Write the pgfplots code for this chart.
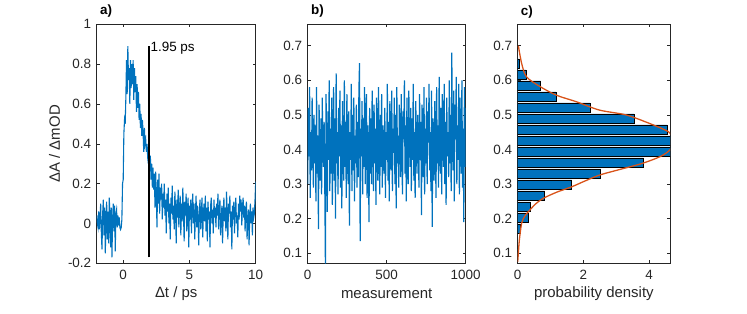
\documentclass[border=0pt]{standalone}
\usepackage{fontspec}
\setmainfont{Liberation Sans}
\usepackage{pgfplots}
\usepackage{pgfplotstable}
\pgfplotsset{compat=1.18}
\definecolor{mblue}{rgb}{0,0.447,0.741}
\definecolor{morange}{rgb}{0.85,0.325,0.098}
\definecolor{axgray}{rgb}{0.15,0.15,0.15}

\pgfplotstableread{
t y
-2.00 0.04
-1.95 0.00
-1.90 -0.02
-1.85 0.06
-1.80 -0.03
-1.75 0.02
-1.70 0.10
-1.65 -0.05
-1.60 -0.13
-1.55 0.05
-1.50 0.12
-1.45 -0.06
-1.40 0.08
-1.35 -0.15
-1.30 0.02
-1.25 0.11
-1.20 -0.08
-1.15 0.06
-1.10 -0.10
-1.05 0.13
-1.00 0.03
-0.95 -0.12
-0.90 0.08
-0.85 -0.17
-0.80 0.02
-0.75 0.10
-0.70 -0.04
-0.65 0.09
-0.60 -0.14
-0.55 0.05
-0.50 0.07
-0.45 -0.02
-0.40 0.04
-0.35 -0.01
-0.30 0.03
-0.25 -0.02
-0.20 -0.03
-0.15 -0.02
-0.10 0.02
-0.05 0.20
0.00 0.22
0.05 0.45
0.10 0.52
0.15 0.50
0.20 0.63
0.25 0.82
0.30 0.65
0.35 0.89
0.40 0.72
0.45 0.78
0.50 0.60
0.55 0.82
0.60 0.68
0.65 0.80
0.70 0.70
0.75 0.82
0.80 0.62
0.85 0.78
0.90 0.66
0.95 0.74
1.00 0.56
1.05 0.70
1.10 0.58
1.15 0.66
1.20 0.52
1.25 0.60
1.30 0.48
1.35 0.55
1.40 0.44
1.45 0.52
1.50 0.46
1.55 0.36
1.60 0.48
1.65 0.40
1.70 0.42
1.75 0.36
1.80 0.40
1.85 0.33
1.90 0.30
1.95 0.38
2.00 0.27
2.05 0.34
2.10 0.22
2.15 0.30
2.20 0.18
2.25 0.28
2.30 0.17
2.35 0.25
2.40 0.08
2.45 0.26
2.50 0.14
2.55 -0.02
2.60 0.22
2.65 0.10
2.70 0.25
2.75 0.05
2.80 0.18
2.85 0.12
2.90 0.20
2.95 0.02
3.00 0.15
3.05 0.08
3.10 0.20
3.15 0.04
3.20 0.12
3.25 -0.05
3.30 0.15
3.35 0.06
3.40 0.18
3.45 0.00
3.50 0.10
3.55 -0.08
3.60 0.13
3.65 0.05
3.70 0.19
3.75 0.02
3.80 0.09
3.85 -0.03
3.90 0.16
3.95 0.07
4.00 -0.10
4.05 0.12
4.10 0.03
4.15 0.17
4.20 -0.02
4.25 0.08
4.30 0.14
4.35 -0.06
4.40 0.10
4.45 0.01
4.50 0.18
4.55 0.05
4.60 -0.09
4.65 0.11
4.70 0.04
4.75 0.15
4.80 -0.04
4.85 0.07
4.90 0.13
4.95 -0.12
5.00 0.09
5.05 0.02
5.10 0.12
5.15 -0.05
5.20 0.08
5.25 0.15
5.30 0.00
5.35 0.10
5.40 -0.08
5.45 0.05
5.50 0.14
5.55 -0.02
5.60 0.09
5.65 0.03
5.70 -0.11
5.75 0.07
5.80 0.12
5.85 -0.03
5.90 0.06
5.95 0.13
6.00 -0.07
6.05 0.04
6.10 0.10
6.15 0.01
6.20 0.14
6.25 -0.04
6.30 0.08
6.35 -0.09
6.40 0.11
6.45 0.02
6.50 0.06
6.55 -0.12
6.60 0.09
6.65 0.13
6.70 0.00
6.75 0.07
6.80 -0.05
6.85 0.12
6.90 0.03
6.95 0.08
7.00 -0.02
7.05 0.10
7.10 0.04
7.15 0.15
7.20 -0.03
7.25 0.07
7.30 0.12
7.35 -0.06
7.40 0.02
7.45 0.09
7.50 -0.10
7.55 0.05
7.60 0.13
7.65 0.01
7.70 0.08
7.75 -0.04
7.80 0.16
7.85 0.03
7.90 -0.08
7.95 0.10
8.00 0.05
8.05 0.14
8.10 -0.02
8.15 0.06
8.20 -0.13
8.25 0.09
8.30 0.02
8.35 0.11
8.40 -0.05
8.45 0.07
8.50 0.13
8.55 0.00
8.60 0.04
8.65 -0.07
8.70 0.10
8.75 0.02
8.80 0.14
8.85 0.06
8.90 0.12
8.95 -0.01
9.00 0.08
9.05 0.13
9.10 0.03
9.15 0.09
9.20 -0.04
9.25 0.06
9.30 0.11
9.35 -0.08
9.40 0.02
9.45 0.07
9.50 -0.11
9.55 0.04
9.60 0.10
9.65 0.00
9.70 0.06
9.75 -0.06
9.80 0.08
9.85 0.03
9.90 0.05
9.95 0.12
10.00 0.21
}\tracedata

\pgfplotstableread{
y
0.30
0.52
0.38
0.58
0.26
0.45
0.34
0.55
0.41
0.29
0.50
0.36
0.47
0.25
0.58
0.33
0.44
0.17
0.53
0.39
0.31
0.49
0.27
0.55
0.40
0.35
0.48
0.30
0.07
0.56
0.42
0.22
0.51
0.37
0.60
0.28
0.46
0.33
0.55
0.24
0.43
0.58
0.31
0.49
0.20
0.62
0.36
0.45
0.27
0.52
0.38
0.57
0.29
0.47
0.23
0.54
0.40
0.31
0.60
0.35
0.48
0.26
0.56
0.42
0.30
0.51
0.18
0.45
0.37
0.59
0.28
0.50
0.34
0.55
0.25
0.44
0.36
0.53
0.29
0.48
0.32
0.57
0.65
0.135
0.46
0.38
0.54
0.27
0.49
0.35
0.58
0.30
0.44
0.56
0.26
0.47
0.39
0.19
0.52
0.33
0.49
0.30
0.57
0.41
0.28
0.53
0.36
0.46
0.24
0.55
0.38
0.31
0.58
0.43
0.27
0.50
0.35
0.56
0.29
0.47
0.40
0.33
0.52
0.26
0.45
0.37
0.59
0.31
0.48
0.25
0.54
0.42
0.34
0.57
0.28
0.46
0.39
0.55
0.30
0.50
0.23
0.58
0.36
0.44
0.29
0.53
0.41
0.32
0.56
0.38
0.27
0.51
0.43
0.60
0.33
0.47
0.25
0.55
0.39
0.30
0.57
0.42
0.35
0.52
0.28
0.49
0.37
0.59
0.31
0.45
0.26
0.54
0.40
0.33
0.50
0.44
0.29
0.56
0.37
0.48
0.21
0.53
0.40
0.32
0.58
0.27
0.46
0.36
0.55
0.30
0.51
0.42
0.59
0.34
0.45
0.28
0.57
0.176
0.49
0.38
0.31
0.54
0.43
0.26
0.58
0.36
0.47
0.29
0.61
0.39
0.33
0.52
0.27
0.56
0.41
0.35
0.59
0.30
0.48
0.24
0.55
0.38
0.45
0.32
0.60
0.36
0.50
0.28
0.68
0.41
0.34
0.57
0.25
0.53
0.43
0.61
0.30
0.47
0.37
0.59
0.27
0.55
0.40
0.33
0.60
0.29
0.46
0.19
0.58
0.35
0.52
}\measdata

\pgfplotsset{
  mstyle/.style={
    scale only axis, height=239bp,
    axis line style={axgray, line width=0.5pt},
    tick style={axgray, line width=0.5pt},
    tick align=inside, major tick length=3bp,
    xtick pos=both, ytick pos=both,
    xticklabel pos=lower, yticklabel pos=left,
    ticklabel style={font=\fontsize{13.5}{15}\selectfont, text=axgray},
    xticklabel style={yshift=-3bp},
    yticklabel style={xshift=-2bp},
    every axis x label/.style={at={(axis description cs:0.5,-0.127)}, anchor=center, font=\fontsize{15}{17}\selectfont, text=axgray},
    every axis y label/.style={at={(axis description cs:-0.265,0.5)}, anchor=center, rotate=90, font=\fontsize{15}{17}\selectfont, text=axgray},
    clip mode=individual,
  }
}

\begin{document}
\begin{tikzpicture}
\path[use as bounding box] (0,0) rectangle (747bp,314bp);

% panel a
\begin{axis}[mstyle, at={(96.7bp,50.7bp)}, anchor=south west, width=159bp,
  xmin=-2, xmax=10, ymin=-0.2, ymax=1,
  xtick={0,5,10}, xticklabels={0,5,10},
  ytick={-0.2,0,0.2,0.4,0.6,0.8,1}, yticklabels={-0.2,0,0.2,0.4,0.6,0.8,1},
  xlabel={Δt / ps}, ylabel={ΔA / ΔmOD}]
\addplot[mblue, line width=1.1pt] table[x=t, y=y] {\tracedata};
\addplot[black, line width=1.3pt] coordinates {(1.95,-0.17) (1.95,0.893)};
\node[anchor=west, inner sep=0pt, font=\fontsize{13.5}{15}\selectfont] at (axis cs:2.05,0.878) {1.95 ps};
\node[anchor=west, inner sep=0pt, font=\bfseries\fontsize{13.5}{15}\selectfont] at (axis description cs:0.02,1.055) {a)};
\end{axis}

% panel b
\begin{axis}[mstyle, at={(307.7bp,50.7bp)}, anchor=south west, width=158bp,
  xmin=0, xmax=1000, ymin=0.071, ymax=0.762,
  xtick={0,500,1000}, xticklabels={0,500,1000},
  ytick={0.1,0.2,0.3,0.4,0.5,0.6,0.7}, yticklabels={0.1,0.2,0.3,0.4,0.5,0.6,0.7},
  xlabel={measurement}]
\addplot[mblue, line width=1.2pt] table[x expr=\coordindex*4, y=y] {\measdata};
\node[anchor=west, inner sep=0pt, font=\bfseries\fontsize{13.5}{15}\selectfont] at (axis description cs:0.02,1.055) {b)};
\end{axis}

% panel c
\begin{axis}[mstyle, at={(517.7bp,50.7bp)}, anchor=south west, width=152.3bp,
  xmin=0, xmax=4.64, ymin=0.071, ymax=0.762, clip mode=global,
  xtick={0,2,4}, xticklabels={0,2,4},
  ytick={0.1,0.2,0.3,0.4,0.5,0.6,0.7}, yticklabels={0.1,0.2,0.3,0.4,0.5,0.6,0.7},
  xlabel={probability density}]
\addplot[xbar, bar width=0.0265, bar shift=0pt, fill=mblue, draw=black, line width=0.5pt] coordinates {
(0.09,0.1719) (0.32,0.2037) (0.38,0.2355) (0.82,0.2673) (1.64,0.2991)
(2.52,0.3309) (3.83,0.3627) (4.95,0.3945) (4.95,0.4263) (4.55,0.4581)
(3.54,0.4899) (2.21,0.5217) (1.16,0.5535) (0.70,0.5853) (0.25,0.6171) (0.05,0.6489)};
\addplot[morange, line width=1.3pt, smooth] coordinates {
(0.00,0.075) (0.02,0.10) (0.05,0.138) (0.12,0.187) (0.22,0.208) (0.37,0.225)
(0.55,0.243) (0.78,0.259) (1.20,0.277) (1.64,0.292) (2.05,0.309) (2.49,0.326)
(3.10,0.342) (3.80,0.360) (4.35,0.380) (4.64,0.399) (4.75,0.423) (4.64,0.447)
(4.50,0.456) (4.00,0.476) (3.30,0.500) (2.49,0.514) (1.79,0.538) (1.18,0.557)
(0.68,0.582) (0.27,0.610) (0.12,0.649) (0.02,0.700)};
\end{axis}
\node[anchor=west, inner sep=0pt, font=\bfseries\fontsize{13.5}{15}\selectfont] at (520.7bp,301.5bp) {c)};
\end{tikzpicture}
\end{document}
